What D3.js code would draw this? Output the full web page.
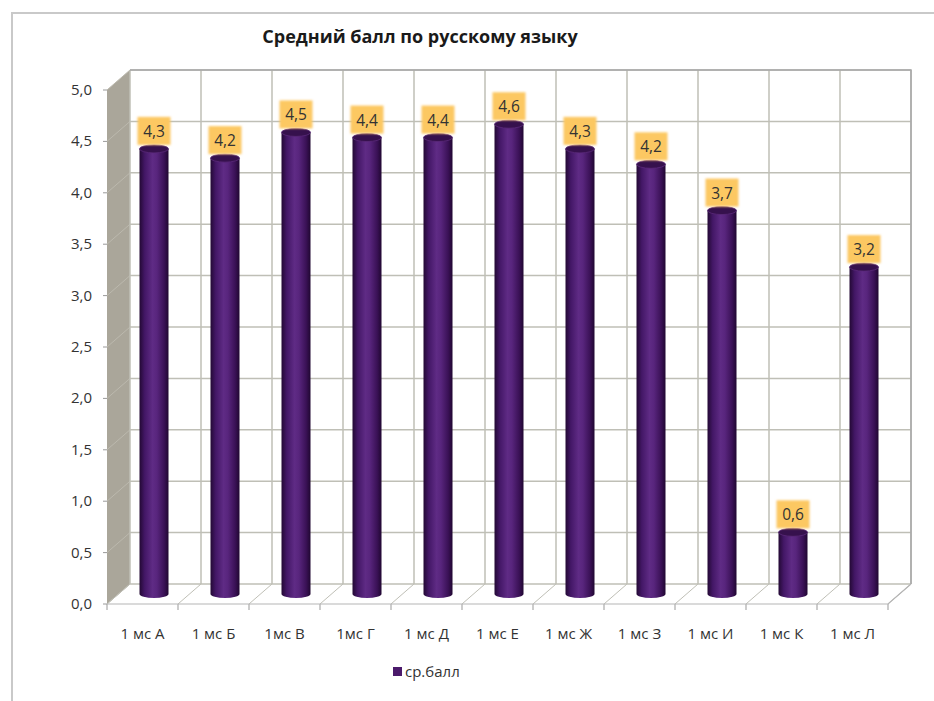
<!DOCTYPE html>
<html><head><meta charset="utf-8">
<script src="https://cdn.jsdelivr.net/npm/d3@7"></script>
<style>body{margin:0;background:#fff}svg{display:block}</style>
</head><body>
<svg id="c" width="934" height="701"></svg>
<script>
const title = "Средний балл по русскому языку";
const categories = ["1 мс А","1 мс Б","1мс В","1мс Г","1 мс Д","1 мс Е","1 мс Ж","1 мс З","1 мс И","1 мс К","1 мс Л"];
const values = [4.33, 4.24, 4.49, 4.44, 4.44, 4.57, 4.33, 4.18, 3.73, 0.60, 3.18];
const yTicks = [0, 0.5, 1, 1.5, 2, 2.5, 3, 3.5, 4, 4.5, 5];
const seriesName = "ср.балл";

const svg = d3.select("#c");
const fmt = v => d3.format(".1f")(v).replace(".", ",");
const DX = 23, DY = -20;
const x = d3.scaleBand().domain(categories).range([107, 888]).paddingInner(0).paddingOuter(0);
const y = d3.scaleLinear().domain([0, 5]).range([604, 90]);
const gridC = "#bfbfb6";

// outer frame
svg.append("path").attr("d", "M12,701 V13 H934").attr("fill", "none").attr("stroke", "#c9c9c9").attr("stroke-width", 2);

// defs
const defs = svg.append("defs");
const g1 = defs.append("linearGradient").attr("id", "cyl").attr("x1", 0).attr("x2", 1).attr("y1", 0).attr("y2", 0);
[[0, "#230934"], [0.18, "#431766"], [0.45, "#5f2b85"], [0.6, "#58257d"], [0.85, "#3a1156"], [1, "#200731"]]
  .forEach(([o, c]) => g1.append("stop").attr("offset", o).attr("stop-color", c));
const blur = defs.append("filter").attr("id", "soft").attr("x", "-20%").attr("y", "-20%").attr("width", "140%").attr("height", "140%");
blur.append("feGaussianBlur").attr("stdDeviation", 1.2);

const x0 = 107, x1 = 888;
const y0 = y(0), y5 = y(5);

// back wall
svg.append("rect").attr("x", x0 + DX).attr("y", y5 + DY).attr("width", x1 - x0).attr("height", y0 - y5).attr("fill", "#fff");
// left wall
svg.append("path").attr("d", `M${x0},${y5} L${x0 + DX},${y5 + DY} L${x0 + DX},${y0 + DY} L${x0},${y0} Z`).attr("fill", "#aaa69a");

// horizontal gridlines on back wall + diagonals on left wall
yTicks.forEach(t => {
  svg.append("line").attr("x1", x0 + DX).attr("x2", x1 + DX).attr("y1", y(t) + DY).attr("y2", y(t) + DY).attr("stroke", gridC).attr("stroke-width", 1.5);
  svg.append("line").attr("x1", x0).attr("x2", x0 + DX).attr("y1", y(t)).attr("y2", y(t) + DY).attr("stroke", "#bcb9ae").attr("stroke-width", 1);
  svg.append("line").attr("x1", x0 - 4).attr("x2", x0).attr("y1", y(t)).attr("y2", y(t)).attr("stroke", "#999");
});
// vertical gridlines on back wall + floor diagonals + ticks
const bounds = categories.map(c => x(c)).concat([x1]);
bounds.forEach(b => {
  svg.append("line").attr("x1", b + DX).attr("x2", b + DX).attr("y1", y5 + DY).attr("y2", y0 + DY).attr("stroke", gridC).attr("stroke-width", 1.5);
  svg.append("line").attr("x1", b).attr("x2", b + DX).attr("y1", y0).attr("y2", y0 + DY).attr("stroke", gridC).attr("stroke-width", 1);
  svg.append("line").attr("x1", b).attr("x2", b).attr("y1", y0).attr("y2", y0 + 6).attr("stroke", "#999");
});
// back wall outline top/right
svg.append("path").attr("d", `M${x0 + DX},${y5 + DY} H${x1 + DX} V${y0 + DY}`).attr("fill", "none").attr("stroke", "#a8a8a8").attr("stroke-width", 1.5);
// floor front edge
svg.append("path").attr("d", `M${x0},${y0} H${x1} L${x1 + DX},${y0 + DY}`).attr("fill", "none").attr("stroke", "#b5b5b5").attr("stroke-width", 1.2);

// y axis labels
svg.append("g").selectAll("text").data(yTicks).join("text")
  .attr("x", 92).attr("y", d => y(d) + 5).attr("text-anchor", "end")
  .attr("font-family", "Open Sans").attr("font-size", 15).attr("fill", "#333")
  .text(d => fmt(d));

// x labels
svg.append("g").selectAll("text").data(categories).join("text")
  .attr("x", d => x(d) + x.bandwidth() / 2).attr("y", 639).attr("text-anchor", "middle")
  .attr("font-family", "Open Sans").attr("font-size", 15).attr("fill", "#333")
  .text(d => d);

// cylinders
const bw = 29, ry = 4;
const bars = svg.append("g").selectAll("g").data(categories.map((c, i) => ({ c, v: values[i] }))).join("g");
bars.each(function (d) {
  const g = d3.select(this);
  const cx = x(d.c) + x.bandwidth() / 2 + DX / 2;
  const yb = y(0) + DY / 2, yt = y(d.v) + DY / 2;
  g.append("path")
    .attr("d", `M${cx - bw / 2},${yt} V${yb} A${bw / 2},${ry} 0 0 0 ${cx + bw / 2},${yb} V${yt} Z`)
    .attr("fill", "url(#cyl)");
  g.append("ellipse").attr("cx", cx).attr("cy", yt).attr("rx", bw / 2).attr("ry", ry).attr("fill", "#36114d").attr("stroke", "#5a2a7a").attr("stroke-width", 0.8);
  // data label
  const bwL = 33, bh = 28;
  g.append("rect").attr("x", cx - bwL / 2).attr("y", yt - ry - bh).attr("width", bwL).attr("height", bh)
    .attr("fill", "#fcc862").attr("filter", "url(#soft)");
  g.append("text").attr("x", cx).attr("y", yt - ry - 8).attr("text-anchor", "middle")
    .attr("font-family", "Open Sans").attr("font-size", 15.5).attr("fill", "#333").text(fmt(d.v));
});

// title
svg.append("text").attr("x", 420).attr("y", 43).attr("text-anchor", "middle")
  .attr("font-family", "Open Sans").attr("font-weight", "bold").attr("font-size", 18).attr("fill", "#1a1a1a").text(title);

// legend
svg.append("rect").attr("x", 393).attr("y", 667).attr("width", 9).attr("height", 9).attr("fill", "#4b1a6b");
svg.append("text").attr("x", 405).attr("y", 677).attr("font-family", "Open Sans").attr("font-size", 15).attr("fill", "#333").text(seriesName);
</script>
</body></html>
